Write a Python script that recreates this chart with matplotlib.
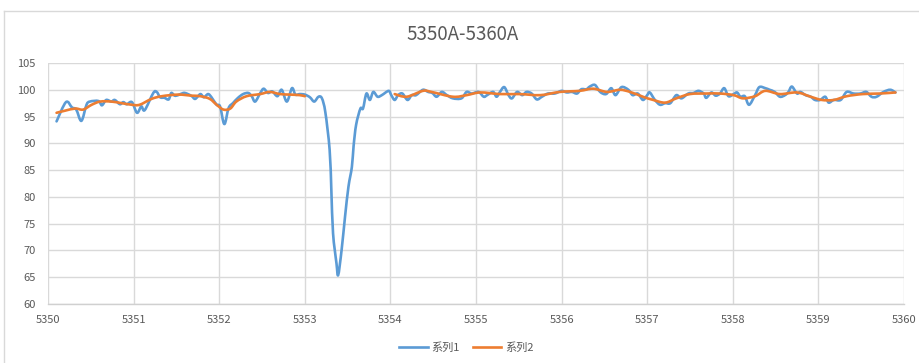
import numpy as np
import matplotlib
matplotlib.use('Agg')
import matplotlib.pyplot as plt
from matplotlib.path import Path
from matplotlib.patches import PathPatch
from matplotlib.lines import Line2D

plt.rcParams['font.family'] = ['Noto Sans CJK SC', 'DejaVu Sans']

# spectrum, 5350-5360 A
wave1 = [5350.10, 5350.21, 5350.28, 5350.33, 5350.39, 5350.45, 5350.49, 5350.59, 5350.63, 5350.68,
         5350.74, 5350.78, 5350.84, 5350.88, 5350.92, 5350.98, 5351.04, 5351.09, 5351.13, 5351.23,
         5351.27, 5351.31, 5351.36, 5351.41, 5351.44, 5351.48, 5351.52, 5351.58, 5351.62, 5351.68,
         5351.72, 5351.78, 5351.82, 5351.87, 5351.91, 5351.97, 5352.01, 5352.06, 5352.11, 5352.16,
         5352.22, 5352.28, 5352.34, 5352.38, 5352.42, 5352.48, 5352.52, 5352.57, 5352.62, 5352.68,
         5352.73, 5352.79, 5352.85, 5352.89, 5352.94, 5353.00, 5353.06, 5353.11, 5353.16, 5353.20,
         5353.24, 5353.29, 5353.31, 5353.33, 5353.37, 5353.39, 5353.43, 5353.47, 5353.51, 5353.55,
         5353.57, 5353.60, 5353.65, 5353.68, 5353.72, 5353.76, 5353.80, 5353.85, 5353.90, 5353.98,
         5354.01, 5354.05, 5354.09, 5354.14, 5354.20, 5354.25, 5354.30, 5354.38, 5354.44, 5354.49,
         5354.54, 5354.60, 5354.66, 5354.73, 5354.83, 5354.89, 5354.95, 5355.03, 5355.09, 5355.13,
         5355.20, 5355.24, 5355.28, 5355.33, 5355.38, 5355.42, 5355.48, 5355.54, 5355.59, 5355.65,
         5355.71, 5355.77, 5355.84, 5355.92, 5356.00, 5356.06, 5356.12, 5356.18, 5356.23, 5356.29,
         5356.33, 5356.39, 5356.45, 5356.52, 5356.58, 5356.63, 5356.70, 5356.78, 5356.83, 5356.89,
         5356.95, 5357.00, 5357.03, 5357.09, 5357.15, 5357.21, 5357.27, 5357.34, 5357.40, 5357.48,
         5357.54, 5357.60, 5357.66, 5357.69, 5357.75, 5357.80, 5357.85, 5357.90, 5357.95, 5358.01,
         5358.05, 5358.09, 5358.14, 5358.19, 5358.26, 5358.31, 5358.38, 5358.43, 5358.49, 5358.55,
         5358.61, 5358.65, 5358.69, 5358.75, 5358.79, 5358.85, 5358.91, 5358.96, 5359.02, 5359.08,
         5359.12, 5359.18, 5359.26, 5359.33, 5359.41, 5359.49, 5359.56, 5359.62, 5359.68, 5359.76,
         5359.84, 5359.90]
flux1 = [94.1, 97.7, 96.7, 96.3, 94.2, 97.2, 97.8, 97.9, 97.1, 98.1,
         97.8, 98.1, 97.3, 97.7, 97.3, 97.7, 95.7, 96.9, 96.2, 99.4,
         99.6, 98.6, 98.5, 98.2, 99.4, 98.9, 99.0, 99.4, 99.3, 98.8,
         98.3, 99.2, 98.6, 99.2, 98.6, 97.2, 96.9, 93.6, 96.6, 97.5,
         98.5, 99.2, 99.4, 98.8, 97.8, 99.4, 100.2, 99.4, 99.7, 98.8,
         100.0, 97.8, 100.3, 99.1, 99.2, 99.1, 98.6, 97.8, 98.7, 98.4,
         95.8, 88.8, 81.3, 73.2, 67.6, 65.4, 70.1, 76.3, 81.9, 85.6,
         89.5, 93.5, 96.5, 96.5, 99.3, 98.1, 99.6, 98.7, 99.0, 99.8,
         99.0, 98.1, 99.0, 99.3, 98.1, 99.0, 99.0, 100.0, 99.6, 99.4,
         98.7, 99.6, 99.0, 98.4, 98.4, 99.6, 99.3, 99.6, 98.7, 99.0,
         99.6, 98.7, 99.6, 100.5, 99.0, 98.4, 99.6, 99.0, 99.6, 99.3,
         98.2, 98.7, 99.3, 99.3, 99.8, 99.5, 99.6, 99.3, 100.1, 100.1,
         100.6, 100.9, 99.6, 99.2, 100.3, 99.0, 100.5, 100.0, 99.0, 99.3,
         98.1, 99.0, 99.5, 98.1, 97.2, 97.5, 97.5, 99.0, 98.4, 99.3,
         99.4, 99.8, 99.3, 98.5, 99.5, 98.9, 99.3, 100.3, 98.8, 99.2,
         99.5, 98.7, 98.8, 97.2, 99.0, 100.5, 100.3, 100.0, 99.6, 98.7,
         99.0, 99.6, 100.6, 99.3, 99.6, 99.0, 98.7, 98.1, 98.1, 98.7,
         97.6, 98.1, 98.1, 99.6, 99.3, 99.3, 99.6, 98.7, 98.7, 99.6,
         100.0, 99.5]

# moving average, left undefined across the deep line
wave2 = [5350.10, 5350.20, 5350.32, 5350.41, 5350.51, 5350.61, 5350.74, 5350.86, 5350.98, 5351.07,
         5351.21, 5351.33, 5351.52, 5351.68, 5351.78, 5351.89, 5351.97, 5352.05, 5352.13, 5352.20,
         5352.32, 5352.48, 5352.59, 5352.71, 5352.83, 5352.94, 5353.00,
         5354.05, 5354.19, 5354.38, 5354.48, 5354.73, 5354.89, 5355.05, 5355.28, 5355.51, 5355.75,
         5355.98, 5356.21, 5356.37, 5356.53, 5356.68, 5356.80, 5356.95, 5357.07, 5357.21, 5357.34,
         5357.50, 5357.69, 5357.85, 5358.01, 5358.12, 5358.26, 5358.38, 5358.55, 5358.75, 5358.91,
         5359.04, 5359.18, 5359.33, 5359.52, 5359.72, 5359.90]
flux2 = [95.7, 96.1, 96.5, 96.3, 97.2, 97.8, 97.8, 97.5, 97.2, 97.2,
         98.3, 98.8, 99.1, 98.9, 98.8, 98.3, 97.2, 96.3, 96.5, 97.8,
         98.8, 99.2, 99.6, 99.2, 99.1, 99.0, 98.8,
         99.2, 98.7, 99.8, 99.6, 98.7, 99.0, 99.5, 99.2, 99.2, 99.0,
         99.6, 99.8, 100.2, 99.6, 100.0, 99.6, 98.7, 98.1, 97.6, 98.4,
         99.2, 99.3, 99.3, 99.0, 98.4, 98.8, 99.8, 99.2, 99.5, 98.7,
         98.1, 98.1, 98.8, 99.2, 99.3, 99.5]
gap_after = 27  # index where the second run of series 2 starts

labels = ['系列1', '系列2']
colors = ['#5b9bd5', '#ed7d31']


def smooth_path(x, y):
    # cubic bezier through every point (catmull-rom tangents), like a smoothed line chart
    p = np.column_stack([x, y]).astype(float)
    ext = np.vstack([p[0], p, p[-1]])
    verts = [p[0]]
    codes = [Path.MOVETO]
    for i in range(len(p) - 1):
        p0, p1, p2, p3 = ext[i], ext[i + 1], ext[i + 2], ext[i + 3]
        verts += [p1 + (p2 - p0) / 6.0, p2 - (p3 - p1) / 6.0, p2]
        codes += [Path.CURVE4] * 3
    return Path(verts, codes)


fig = plt.figure(figsize=(9.19, 3.63), dpi=100)
ax = fig.add_axes([48 / 919, 59 / 363, 856 / 919, 241 / 363])

ax.add_patch(PathPatch(smooth_path(wave1, flux1), fill=False, edgecolor=colors[0],
                       lw=1.9, capstyle='round', joinstyle='round', zorder=3))
for a, b in [(0, gap_after), (gap_after, len(wave2))]:
    ax.add_patch(PathPatch(smooth_path(wave2[a:b], flux2[a:b]), fill=False, edgecolor=colors[1],
                           lw=1.9, capstyle='round', joinstyle='round', zorder=4))

ax.set_xlim(5350, 5360)
ax.set_ylim(60, 105)
ax.set_xticks(np.arange(5350, 5361, 1))
ax.set_yticks(np.arange(60, 106, 5))
ax.grid(True, color='#d9d9d9', lw=1.0)
ax.set_axisbelow(True)
for s in ['top', 'right', 'left']:
    ax.spines[s].set_visible(False)
ax.spines['bottom'].set_color('#d0d0d0')
ax.spines['bottom'].set_linewidth(1.0)
ax.tick_params(length=0, labelsize=8, colors='#595959', pad=9)
ax.tick_params(axis='x', pad=8)

fig.text(463 / 919, 1 - 35 / 363, '5350A-5360A', ha='center', va='center',
         fontsize=13.5, color='#595959')

handles = [Line2D([], [], color=c, lw=1.9) for c in colors]
fig.legend(handles, labels, loc='center', bbox_to_anchor=(466 / 919, 15 / 363), ncol=2,
           frameon=False, fontsize=8, handlelength=2.6, handletextpad=0.3, columnspacing=1.2,
           labelcolor='#595959')

# outer chart frame
fig.add_artist(Line2D([4 / 919, 1], [1 - 11 / 363, 1 - 11 / 363], color='#d9d9d9', lw=1.0))
fig.add_artist(Line2D([4 / 919, 4 / 919], [0, 1 - 11 / 363], color='#d9d9d9', lw=1.0))

fig.savefig('out.png', dpi=100)
